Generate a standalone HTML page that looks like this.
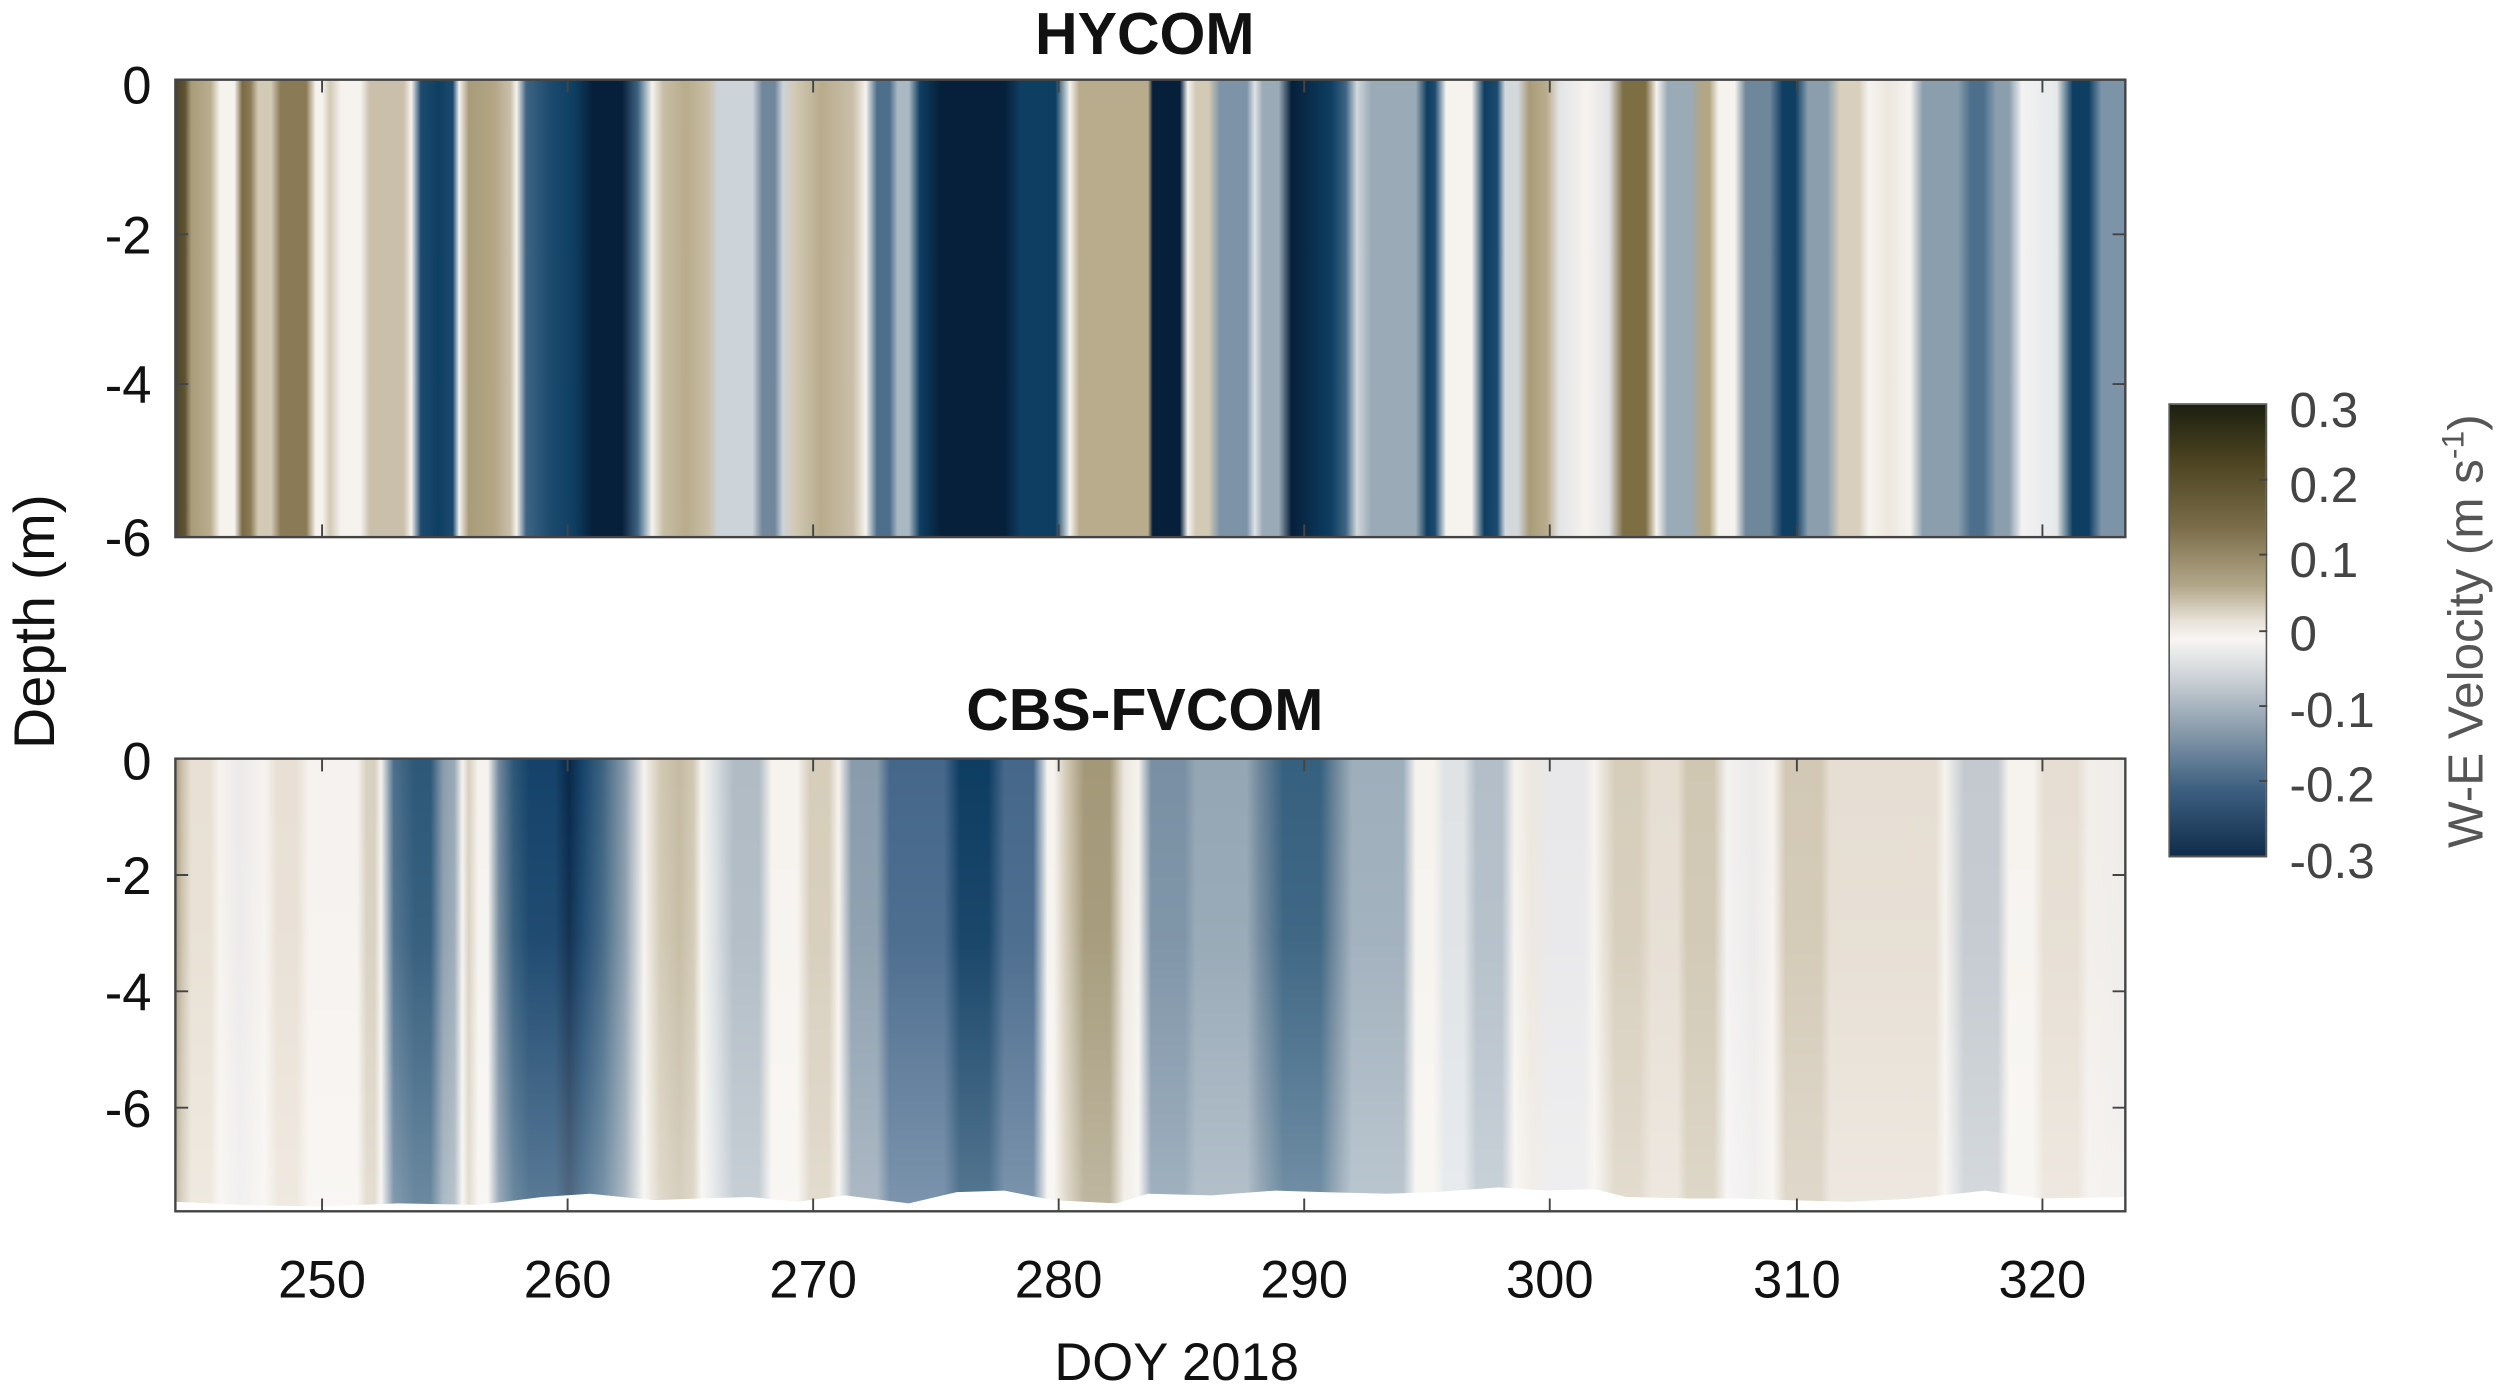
<!DOCTYPE html>
<html><head><meta charset="utf-8"><style>
html,body{margin:0;padding:0;background:#fff;width:2500px;height:1393px;overflow:hidden}
#c{position:absolute;left:0;top:0;width:1568px;height:874px;transform-origin:0 0;transform:scale(1.5944,1.5938);font-family:"Liberation Sans",sans-serif}
.p{position:absolute;left:110px;width:1223px}
#top{top:50px;height:287px;background:linear-gradient(90deg,#4e4428 0px,#5e5232 6px,#a99c7a 10px,#b9ad90 22px,#f6f3ef 28px,#f6f3ef 37px,#7a6a44 42px,#8a7a55 47px,#d3cab6 52px,#d3cab6 60px,#8a7a55 66px,#8a7a55 82px,#f6f3ef 88px,#f6f3ef 92px,#d3cab6 97px,#f6f3ef 104px,#f6f3ef 116px,#c9bfaa 122px,#c9bfaa 143px,#f6f3ef 148px,#1c4a6e 154px,#0e3e62 165px,#1c4a6e 174px,#f6f3ef 178px,#a99c7a 184px,#b3a685 200px,#c9bfaa 210px,#f6f3ef 214px,#3e6482 220px,#1c4a6e 235px,#0e3e62 250px,#061f3a 262px,#061f3a 280px,#3e6482 290px,#f6f3ef 299px,#c8bea5 306px,#b8ac8c 320px,#c8bea5 334px,#ccd3d9 340px,#ccd3d9 362px,#71889c 368px,#71889c 376px,#ccd3d9 381px,#d3cab6 388px,#b8ac8c 405px,#c9bfaa 425px,#f6f3ef 433px,#4d6f8c 440px,#4d6f8c 448px,#aab8c4 453px,#aab8c4 460px,#0e3e62 467px,#061f3a 480px,#061f3a 520px,#0e3e62 530px,#0e3e62 552px,#f6f3ef 561px,#b8ac8c 567px,#b8ac8c 610px,#061f3a 613px,#061f3a 630px,#f6f3ef 635px,#d3cab6 640px,#d3cab6 648px,#7d94a8 655px,#7d94a8 672px,#dfe3e6 677px,#9aaab6 682px,#9aaab6 692px,#061f3a 700px,#0e3e62 725px,#3e6482 734px,#d3d8dc 741px,#9aaab6 750px,#9aaab6 778px,#0e3e62 785px,#1c4a6e 790px,#f6f3ef 797px,#f6f3ef 813px,#0e3e62 821px,#1c4a6e 829px,#d3d8dc 834px,#d3d8dc 842px,#a99c7a 849px,#b8ac8c 860px,#e3e4e6 868px,#f6f3ef 885px,#e3e4e6 899px,#7d6e44 908px,#7d6e44 922px,#f6f3ef 929px,#9aaab6 936px,#9aaab6 950px,#b3a685 957px,#b3a685 962px,#f6f3ef 968px,#f6f3ef 978px,#6f879b 985px,#6f879b 1000px,#0e3e62 1008px,#0e3e62 1016px,#8a9eae 1024px,#8a9eae 1036px,#d8cfbd 1044px,#d8cfbd 1056px,#f6f3ef 1062px,#ece7df 1075px,#f6f3ef 1088px,#8a9eae 1096px,#8a9eae 1118px,#4d6f8c 1126px,#4d6f8c 1134px,#8a9eae 1142px,#8a9eae 1150px,#f3f2f1 1158px,#e6e8ea 1180px,#0e3e62 1190px,#0e3e62 1200px,#7d94a8 1208px,#7d94a8 1223px)}
#bot{top:476px;height:284px;background:linear-gradient(90deg,#a99c7a 0px,#c9bfaa 4px,#e8e0d4 10px,#e8e0d4 22px,#f6f3ef 28px,#eceaea 40px,#f6f3ef 56px,#e8e0d4 64px,#e8e0d4 76px,#f6f2ef 84px,#f6f2ef 114px,#d8d0c0 120px,#d8d0c0 125px,#f6f3ef 129px,#4d6f8c 137px,#2d5878 150px,#2d5878 160px,#8a9cac 168px,#9aaab6 175px,#f6f3ef 180px,#d8d0c0 184px,#f6f3ef 190px,#f6f3ef 196px,#6f879c 203px,#2d5878 212px,#15426a 222px,#15426a 238px,#08284a 247px,#15426a 255px,#3e6482 268px,#8a9cac 282px,#f6f3ef 294px,#d2c9b5 304px,#c5bba3 316px,#d2c9b5 325px,#f6f3ef 330px,#dde1e4 338px,#b0bbc4 350px,#b0bbc4 366px,#f6f3ef 374px,#f6f3ef 390px,#d6cdbb 398px,#d6cdbb 410px,#f6f3ef 416px,#8a9cac 424px,#8a9cac 440px,#45678a 448px,#45678a 482px,#0e3d62 492px,#0e3d62 510px,#45678a 520px,#45678a 538px,#f6f3ef 547px,#f6f3ef 551px,#d6cdbb 558px,#a39878 570px,#a39878 586px,#ece7df 595px,#f6f3ef 604px,#7990a4 612px,#7990a4 633px,#94a6b4 640px,#94a6b4 672px,#6f879b 680px,#36607f 695px,#36607f 718px,#6f879b 728px,#9eaebb 738px,#9eaebb 770px,#f6f3ef 778px,#f6f3ef 789px,#dfe3e6 796px,#dfe3e6 808px,#b3bec8 816px,#b3bec8 832px,#f6f3ef 840px,#ece7df 850px,#e8e8ea 862px,#e8e8ea 883px,#f6f3ef 890px,#d6cdbb 903px,#d6cdbb 918px,#e6ded3 926px,#e6ded3 942px,#d0c7b3 948px,#d0c7b3 965px,#f3f2f1 973px,#ebeaea 990px,#f6f3ef 1002px,#d2c8b5 1010px,#d2c8b5 1032px,#e6ded3 1038px,#e6ded3 1104px,#f6f3ef 1110px,#c3c9cf 1122px,#c3c9cf 1143px,#f6f3ef 1150px,#f6f3ef 1165px,#e6ded3 1172px,#e6ded3 1193px,#f2eeea 1200px,#eeecea 1223px)}
#bot:after{content:"";position:absolute;left:0;top:0;right:0;bottom:0;background:linear-gradient(180deg,rgba(255,255,255,0) 0%,rgba(255,255,255,0.05) 40%,rgba(255,255,255,0.3) 100%)}
.cb{position:absolute;left:1360px;top:253px;width:62px;height:285px;border:1.5px solid #555;box-sizing:border-box;background:linear-gradient(180deg,#1c2010 0%,#4a4220 12%,#7a6c48 27%,#b2a68a 40%,#e8e2d8 48%,#f8f6f4 52%,#d0d4d8 60%,#8a9cac 72%,#3e6080 85%,#102c4a 100%)}
svg{position:absolute;left:0;top:0}
text{font-family:"Liberation Sans",sans-serif}
</style></head><body><div id="c">
<div class="p" id="top"></div>
<div class="p" id="bot"></div>
<div class="cb"></div>
<svg width="1568" height="874" viewBox="0 0 1568 874">
<path d="M110,760 L110,754 L150,756 L200,757 L250,755 L300,756 L340,751 L370,749 L410,753 L440,752 L470,751 L500,754 L530,750 L570,755 L600,748 L630,747 L660,753 L700,755 L720,749 L760,750 L800,747 L830,748 L870,749 L900,748 L940,745 L970,747 L1000,746 L1020,751 L1060,752 L1090,752 L1120,753 L1160,754 L1200,752 L1245,747 L1280,752 L1333,751 L1333,762 Z" fill="#fff"/>
<g fill="none" stroke="#444" stroke-width="1.5">
<rect x="110" y="50" width="1223" height="287"/>
<rect x="110" y="476" width="1223" height="284"/>
</g>
<g stroke="#444" stroke-width="1.2">
<path d="M202,50v8M356,50v8M510,50v8M664,50v8M818,50v8M972,50v8M1127,50v8M1281,50v8M202,337v-8M356,337v-8M510,337v-8M664,337v-8M818,337v-8M972,337v-8M1127,337v-8M1281,337v-8"/>
<path d="M202,476v8M356,476v8M510,476v8M664,476v8M818,476v8M972,476v8M1127,476v8M1281,476v8M202,760v-8M356,760v-8M510,760v-8M664,760v-8M818,760v-8M972,760v-8M1127,760v-8M1281,760v-8"/>
<path d="M110,147h8M110,241h8M1333,147h-8M1333,241h-8M110,549h8M110,622h8M110,695h8M1333,549h-8M1333,622h-8M1333,695h-8"/>
<path d="M1422,301h-5M1422,348h-5M1422,396h-5M1422,443h-5M1422,490h-5"/>
</g>
<g font-size="33" fill="#111" text-anchor="middle">
<text x="718" y="34" font-weight="bold" font-size="37">HYCOM</text>
<text x="718" y="458" font-weight="bold" font-size="37">CBS-FVCOM</text>
<text x="202" y="814">250</text><text x="356" y="814">260</text><text x="510" y="814">270</text><text x="664" y="814">280</text><text x="818" y="814">290</text><text x="972" y="814">300</text><text x="1127" y="814">310</text><text x="1281" y="814">320</text>
<text x="738" y="866">DOY 2018</text>
</g>
<g font-size="33" fill="#111" text-anchor="end">
<text x="95" y="65">0</text><text x="95" y="159">-2</text><text x="95" y="253">-4</text><text x="95" y="349">-6</text>
<text x="95" y="489">0</text><text x="95" y="561">-2</text><text x="95" y="634">-4</text><text x="95" y="707">-6</text>
</g>
<text transform="translate(34,390) rotate(-90)" text-anchor="middle" font-size="36" fill="#111">Depth (m)</text>
<g font-size="31" fill="#444">
<text x="1436" y="268">0.3</text><text x="1436" y="315">0.2</text><text x="1436" y="362">0.1</text><text x="1436" y="408">0</text><text x="1436" y="456">-0.1</text><text x="1436" y="503">-0.2</text><text x="1436" y="551">-0.3</text>
</g>
<text transform="translate(1557,396) rotate(-90)" text-anchor="middle" font-size="31" fill="#555">W-E Velocity (m s<tspan font-size="20" dy="-12">-1</tspan><tspan dy="12">)</tspan></text>
</svg>
</div></body></html>
